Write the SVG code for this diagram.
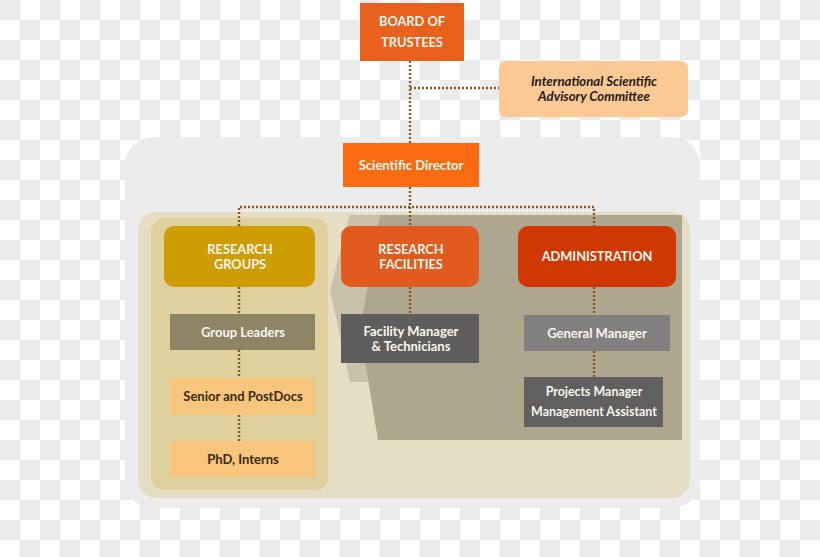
<svg xmlns="http://www.w3.org/2000/svg" width="820" height="557" viewBox="0 0 820 557">
<defs>
<pattern id="checker" patternUnits="userSpaceOnUse" width="40" height="40">
<rect width="40" height="40" fill="#ffffff"/>
<rect x="0" y="0" width="20" height="20" fill="#ebebeb"/>
<rect x="20" y="20" width="20" height="20" fill="#ebebeb"/>
</pattern>
<style>
text{font-family:Lato,"Liberation Sans",sans-serif;text-anchor:middle;}
.w{fill:#fbf6ee;font-weight:700;font-size:13px;}
.cap{fill:#fbf6ee;font-weight:700;font-size:12.8px;}
.dk{fill:#3a2a12;font-weight:700;font-size:13px;}
.it{fill:#1f1a14;font-weight:700;font-style:italic;font-size:13.2px;}
.dot{fill:none;stroke:#8a5a22;stroke-width:2.4;stroke-dasharray:2 2;}
</style>
</defs>
<rect width="820" height="557" fill="url(#checker)"/>
<g id="panels">
<rect x="125" y="137" width="575" height="371" rx="28" fill="#ececec"/>
<rect x="138" y="212" width="552" height="286" rx="18" fill="#e6ddc5"/>
<polygon points="350,215 487,215 487,382 350,382 330,290" fill="#c9c1aa"/>
<polygon points="380,215 682,215 682,440 378,440 360,330" fill="#aea68e"/>
<rect x="151" y="218" width="177" height="272" rx="13" fill="#dfd19e"/>
</g>
<g id="connectors">
<path class="dot" d="M410,61 V143"/>
<path class="dot" d="M410,88 H499"/>
<path class="dot" d="M410,187 V207"/>
<path class="dot" d="M239,226 V207 H594 V226"/>
<path class="dot" d="M410,207 V226"/>
<path class="dot" d="M239,287 V314"/>
<path class="dot" d="M239,350 V378"/>
<path class="dot" d="M239,415 V441"/>
<path class="dot" d="M410,287 V314"/>
<path class="dot" d="M594,287 V315"/>
<path class="dot" d="M594,351 V377"/>
</g>
<g id="board">
<rect x="360" y="3" width="104" height="58" fill="#e8611d"/>
<text class="cap" x="412" y="26">BOARD OF</text>
<text class="cap" x="412" y="47">TRUSTEES</text>
</g>
<g id="advisory">
<rect x="499" y="61" width="189" height="56" rx="7" fill="#fcc995"/>
<text class="it" x="594" y="86">International Scientific</text>
<text class="it" x="594" y="101">Advisory Committee</text>
</g>
<g id="director">
<rect x="343" y="143" width="136" height="44" fill="#fb6b12"/>
<text class="w" x="411" y="170">Scientific Director</text>
</g>
<g id="research-groups">
<rect x="164" y="226" width="151" height="61" rx="10" fill="#ce9c03"/>
<text class="cap" x="240" y="254">RESEARCH</text>
<text class="cap" x="240" y="269">GROUPS</text>
</g>
<g id="research-facilities">
<rect x="341" y="226" width="138" height="61" rx="10" fill="#e05b1d"/>
<text class="cap" x="411" y="254">RESEARCH</text>
<text class="cap" x="411" y="269">FACILITIES</text>
</g>
<g id="administration">
<rect x="518" y="226" width="158" height="61" rx="10" fill="#cf3703"/>
<text class="cap" x="597" y="261">ADMINISTRATION</text>
</g>
<g id="group-leaders">
<rect x="170" y="314" width="145" height="36" fill="#8e8466"/>
<text class="w" x="243" y="337">Group Leaders</text>
</g>
<g id="facility-manager">
<rect x="341" y="314" width="138" height="49" fill="#5e5e5e"/>
<text class="w" x="411" y="336">Facility Manager</text>
<text class="w" x="411" y="351">&amp; Technicians</text>
</g>
<g id="general-manager">
<rect x="524" y="315" width="146" height="36" fill="#808080"/>
<text class="w" x="597" y="338">General Manager</text>
</g>
<g id="projects-manager">
<rect x="524" y="377" width="139" height="50" fill="#606060"/>
<text class="w" x="594" y="396" style="font-size:12.4px">Projects Manager</text>
<text class="w" x="594" y="416" style="font-size:12.4px">Management Assistant</text>
</g>
<g id="senior-postdocs">
<rect x="170" y="378" width="145" height="37" fill="#f8c57c"/>
<text class="dk" x="243" y="401">Senior and PostDocs</text>
</g>
<g id="phd-interns">
<rect x="170" y="441" width="145" height="36" fill="#f8c57c"/>
<text class="dk" x="243" y="464">PhD, Interns</text>
</g>
</svg>
